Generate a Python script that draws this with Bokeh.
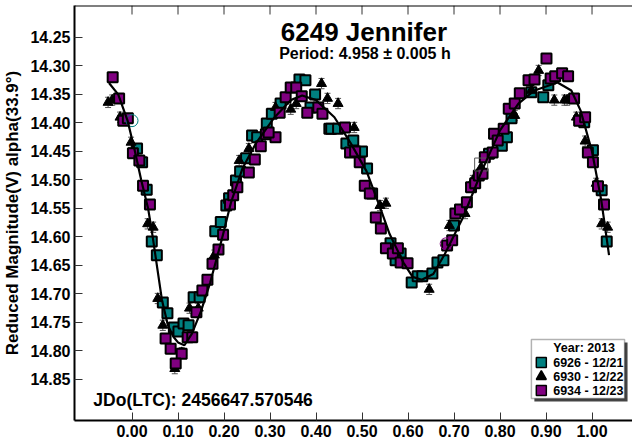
from bokeh.plotting import figure
from bokeh.models import (Range1d, FixedTicker, Label, BoxAnnotation, Span,
                          Whisker, TeeHead, ColumnDataSource, NumeralTickFormatter)
from bokeh.embed import file_html
from bokeh.resources import INLINE

# ---------------- data ----------------
TEAL_X = [0.011, 0.022, 0.032, 0.043, 0.054, 0.067, 0.077, 0.091, 0.101, 0.112, 0.123, 0.134,
          0.147, 0.181, 0.193, 0.205, 0.211, 0.226, 0.235, 0.248, 0.261, 0.272, 0.293, 0.304,
          0.323, 0.364, 0.377, 0.398, 0.388, 0.429, 0.433, 0.448, 0.466, 0.481, 0.500, 0.511,
          0.522, 0.562, 0.584, 0.573, 0.608, 0.621, 0.631, 0.653, 0.664, 0.677, 0.700, 0.776,
          0.804, 0.815, 0.825, 0.868, 0.894, 0.905, 0.983, 1.002, 1.021, 1.032]
TEAL_Y = [14.445, 14.469, 14.517, 14.608, 14.632, 14.715, 14.734, 14.759, 14.766, 14.752, 14.755, 14.706,
          14.706, 14.590, 14.574, 14.545, 14.532, 14.501, 14.485, 14.462, 14.422, 14.425, 14.401, 14.384,
          14.366, 14.324, 14.325, 14.350, 14.373, 14.410, 14.410, 14.410, 14.436, 14.431, 14.450, 14.480,
          14.524, 14.611, 14.629, 14.641, 14.680, 14.669, 14.669, 14.664, 14.645, 14.641, 14.580, 14.454,
          14.440, 14.425, 14.392, 14.346, 14.355, 14.334, 14.399, 14.448, 14.518, 14.608]

TRI_X = [-0.052, -0.043, -0.026, -0.002, 0.034, 0.046, 0.056, 0.067, 0.093, 0.108, 0.125, 0.144,
         0.179, 0.233, 0.254, 0.312, 0.345, 0.357, 0.412, 0.425, 0.448, 0.483, 0.539, 0.552,
         0.646, 0.690, 0.724, 0.741, 0.759, 0.832, 0.868, 0.884, 0.918, 0.940, 0.946, 0.966,
         0.985, 1.009, 1.021, 1.034]
TRI_Y = [14.364, 14.360, 14.390, 14.434, 14.577, 14.583, 14.708, 14.755, 14.831, 14.803, 14.725, 14.725,
         14.632, 14.466, 14.445, 14.373, 14.376, 14.366, 14.331, 14.357, 14.366, 14.408, 14.545, 14.541,
         14.692, 14.580, 14.559, 14.501, 14.478, 14.387, 14.343, 14.308, 14.360, 14.360, 14.360, 14.390,
         14.432, 14.506, 14.577, 14.583]

PURP_X = [-0.042, -0.028, -0.019, -0.009, 0.002, 0.016, 0.024, 0.039, 0.073, 0.084, 0.108, 0.095,
          0.121, 0.131, 0.140, 0.153, 0.164, 0.175, 0.188, 0.198, 0.213, 0.220, 0.229, 0.254,
          0.267, 0.280, 0.291, 0.312, 0.297, 0.321, 0.334, 0.345, 0.357, 0.369, 0.381, 0.405,
          0.414, 0.463, 0.474, 0.485, 0.495, 0.506, 0.517, 0.530, 0.541, 0.552, 0.567, 0.578,
          0.584, 0.599, 0.685, 0.696, 0.703, 0.713, 0.728, 0.737, 0.746, 0.754, 0.762, 0.767,
          0.784, 0.787, 0.795, 0.808, 0.819, 0.832, 0.843, 0.862, 0.875, 0.901, 0.910, 0.920,
          0.935, 0.948, 0.961, 0.972, 0.985, 0.991, 1.002, 1.013, 1.026]
PURP_Y = [14.320, 14.357, 14.396, 14.392, 14.453, 14.466, 14.510, 14.543, 14.778, 14.796, 14.805, 14.822,
          14.776, 14.776, 14.732, 14.694, 14.675, 14.647, 14.622, 14.596, 14.543, 14.527, 14.513, 14.487,
          14.464, 14.441, 14.420, 14.425, 14.417, 14.382, 14.355, 14.338, 14.338, 14.353, 14.382, 14.373,
          14.384, 14.408, 14.452, 14.450, 14.469, 14.510, 14.524, 14.566, 14.585, 14.620, 14.629, 14.620,
          14.645, 14.646, 14.615, 14.606, 14.559, 14.552, 14.539, 14.513, 14.506, 14.492, 14.489, 14.460,
          14.452, 14.419, 14.431, 14.410, 14.375, 14.366, 14.348, 14.325, 14.324, 14.287, 14.322, 14.318,
          14.313, 14.318, 14.357, 14.396, 14.390, 14.452, 14.469, 14.511, 14.543]

ERR_TEAL = 0.008
ERR_TRI = 0.009
ERR_PURP = 0.008

# Fourier fit curve
CURVE_X = [-0.05, -0.03, -0.01, 0.005, 0.02, 0.035, 0.045, 0.055, 0.065, 0.078, 0.09, 0.10, 0.114,
           0.13, 0.15, 0.17, 0.195, 0.215, 0.24, 0.27, 0.31, 0.345, 0.37, 0.40, 0.44, 0.475, 0.51,
           0.54, 0.56, 0.59, 0.61, 0.63, 0.655, 0.68, 0.72, 0.76, 0.80, 0.84, 0.875, 0.925, 0.955,
           0.975, 1.00, 1.02, 1.037]
CURVE_Y = [14.33, 14.35, 14.395, 14.445, 14.50, 14.55, 14.60, 14.655, 14.71, 14.755, 14.775, 14.785,
           14.79, 14.77, 14.73, 14.68, 14.605, 14.54, 14.48, 14.435, 14.39, 14.36, 14.352, 14.36,
           14.39, 14.435, 14.485, 14.55, 14.595, 14.645, 14.67, 14.675, 14.665, 14.63, 14.565,
           14.485, 14.413, 14.366, 14.343, 14.329, 14.343, 14.378, 14.45, 14.535, 14.632]

# extra (open) markers
OPEN_CIRC_TEAL_X = [0.0]
OPEN_CIRC_TEAL_Y = [14.396]
OPEN_CIRC_PURP_X = [0.683]
OPEN_CIRC_PURP_Y = [14.612]
OPEN_SQ_X = [0.759]
OPEN_SQ_Y = [14.473]

X_TICKS = [0.0, 0.1, 0.2, 0.3, 0.4, 0.5, 0.6, 0.7, 0.8, 0.9, 1.0]
Y_TICKS = [14.25, 14.30, 14.35, 14.40, 14.45, 14.50, 14.55, 14.60, 14.65, 14.70, 14.75, 14.80, 14.85]

SERIES_NAMES = ["6926 - 12/21", "6930 - 12/22", "6934 - 12/23"]
TITLE = "6249 Jennifer"
SUBTITLE = "Period: 4.958 \u00b1 0.005 h"
JD_TEXT = "JDo(LTC): 2456647.570546"
Y_LABEL = "Reduced Magnitude(V) alpha(33.9\u00b0)"
LEGEND_TITLE = "Year: 2013"

TEAL = "#008080"
PURPLE = "#800080"
FONT = "Liberation Sans"

# ---------------- figure ----------------
X0, X1 = -0.125, 1.088
YT, YB = 14.194, 14.922

p = figure(width=632, height=443, output_backend="svg", toolbar_location=None,
           x_range=Range1d(X0, X1), y_range=Range1d(YB, YT),
           min_border_left=69, min_border_right=0, min_border_top=5, min_border_bottom=23)
p.outline_line_color = None
p.grid.visible = False
p.background_fill_color = "white"
p.border_fill_color = "white"

# frame geometry (pixels) used to place annotations
FL, FR, FT, FB = 69, 632, 5, 420


def px2x(px):
    return X0 + (px - FL) / (FR - FL) * (X1 - X0)


def py2y(py):
    return YT + (py - FT) / (FB - FT) * (YB - YT)


def style_axis(ax):
    ax.axis_line_width = 2
    ax.axis_line_color = "black"
    ax.major_tick_in = 8
    ax.major_tick_out = 0
    ax.major_tick_line_color = "#333333"
    ax.major_tick_line_width = 1
    ax.minor_tick_line_color = None
    ax.major_label_text_font = FONT
    ax.major_label_text_font_style = "bold"
    ax.major_label_text_color = "black"
    ax.major_label_text_font_size = "16px"
    ax.major_label_standoff = 4


xa = p.xaxis[0]
xa.ticker = FixedTicker(ticks=X_TICKS)
xa.formatter = NumeralTickFormatter(format="0.00")
style_axis(xa)

ya = p.yaxis[0]
ya.ticker = FixedTicker(ticks=Y_TICKS)
ya.formatter = NumeralTickFormatter(format="0.00")
style_axis(ya)
ya.axis_label = Y_LABEL
ya.axis_label_text_font = FONT
ya.axis_label_text_font_style = "bold"
ya.axis_label_text_font_size = "17px"
ya.axis_label_text_color = "black"
ya.axis_label_standoff = 5

# top frame line with inward ticks
p.add_layout(Span(location=YT, dimension="width", line_color="black", line_width=2))
p.segment(x0=X_TICKS, y0=[YT] * len(X_TICKS), x1=X_TICKS, y1=[py2y(FT + 9)] * len(X_TICKS),
          line_color="#333333", line_width=1)


def whisk(xs, ys, err, color):
    src = ColumnDataSource(dict(x=xs, lo=[v - err for v in ys], hi=[v + err for v in ys]))
    w = Whisker(source=src, base="x", lower="lo", upper="hi", dimension="height",
                line_color=color, line_width=1, level="underlay",
                lower_head=TeeHead(size=6, line_color=color, line_width=1),
                upper_head=TeeHead(size=6, line_color=color, line_width=1))
    p.add_layout(w)


whisk(TEAL_X, TEAL_Y, ERR_TEAL, TEAL)
whisk(TRI_X, TRI_Y, ERR_TRI, "#555555")
whisk(PURP_X, PURP_Y, ERR_PURP, PURPLE)

p.scatter(TEAL_X, TEAL_Y, marker="square", size=10, fill_color=TEAL,
          line_color="black", line_width=2)
p.scatter(TRI_X, TRI_Y, marker="triangle", size=10, fill_color="black",
          line_color="black", line_width=1)
p.scatter(PURP_X, PURP_Y, marker="square", size=10, fill_color=PURPLE,
          line_color="black", line_width=2)
p.scatter(OPEN_CIRC_TEAL_X, OPEN_CIRC_TEAL_Y, marker="circle", size=12, fill_color=None,
          line_color=TEAL, line_width=1)
p.scatter(OPEN_CIRC_PURP_X, OPEN_CIRC_PURP_Y, marker="circle", size=12, fill_color=None,
          line_color=PURPLE, line_width=1)
p.scatter(OPEN_SQ_X, OPEN_SQ_Y, marker="square", size=13, fill_color=None,
          line_color="#555555", line_width=1)

p.line(CURVE_X, CURVE_Y, line_color="black", line_width=2.2)

# ---------------- texts ----------------
p.add_layout(Label(x=px2x(361), y=py2y(31), text=TITLE, text_font=FONT,
                   text_font_style="bold", text_font_size="26px", text_align="center",
                   text_baseline="middle", text_color="black"))
p.add_layout(Label(x=px2x(362), y=py2y(53), text=SUBTITLE, text_font=FONT,
                   text_font_style="bold", text_font_size="16px", text_align="center",
                   text_baseline="middle", text_color="black"))
p.add_layout(Label(x=px2x(88), y=py2y(399), text=JD_TEXT, text_font=FONT,
                   text_font_style="bold", text_font_size="17.5px", text_align="left",
                   text_baseline="middle", text_color="black"))

# ---------------- legend (drawn by hand) ----------------
LB_L, LB_R, LB_T, LB_B = 530, 624, 339, 398
p.add_layout(BoxAnnotation(left=px2x(LB_L + 3), right=px2x(LB_R + 3), top=py2y(LB_T + 3),
                           bottom=py2y(LB_B + 3), fill_color="#444444", fill_alpha=1,
                           line_color=None, level="underlay"))
p.add_layout(BoxAnnotation(left=px2x(LB_L), right=px2x(LB_R), top=py2y(LB_T),
                           bottom=py2y(LB_B), fill_color="white", fill_alpha=1,
                           line_color="black", line_width=1.5, level="underlay"))
p.add_layout(Label(x=px2x(552), y=py2y(347), text=LEGEND_TITLE, text_font=FONT,
                   text_font_style="bold", text_font_size="12.5px", text_baseline="middle",
                   text_color="black"))
row_y = [362, 376, 390]
legend_markers = ["square", "triangle", "square"]
legend_colors = [TEAL, "black", PURPLE]
for name, ry in zip(SERIES_NAMES, row_y):
    p.add_layout(Label(x=px2x(552), y=py2y(ry), text=name, text_font=FONT,
                       text_font_style="bold", text_font_size="12.5px",
                       text_baseline="middle", text_color="black"))
for ry, mk, col in zip(row_y, legend_markers, legend_colors):
    p.scatter([px2x(540)], [py2y(ry)], marker=mk, size=10, fill_color=col,
              line_color="black", line_width=1.5)

open("out.html", "w").write(file_html(p, INLINE))
